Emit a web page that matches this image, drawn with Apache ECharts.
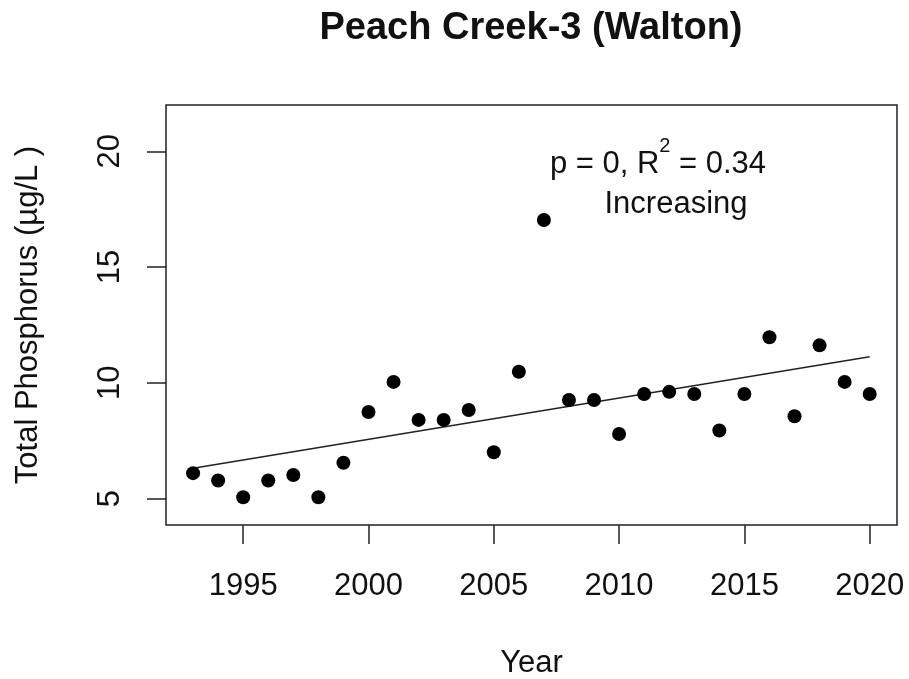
<!DOCTYPE html>
<html>
<head>
<meta charset="utf-8">
<title>Peach Creek-3 (Walton)</title>
<script src="https://cdn.jsdelivr.net/npm/echarts@6/dist/echarts.min.js"></script>
<style>
  html, body { margin: 0; padding: 0; background: #fff; }
  #chart { width: 909px; height: 679px; }
</style>
</head>
<body>
<div id="chart"></div>
<script>
// observed annual values
const years = [1993, 1994, 1995, 1996, 1997, 1998, 1999, 2000, 2001, 2002, 2003, 2004, 2005, 2006,
  2007, 2008, 2009, 2010, 2011, 2012, 2013, 2014, 2015, 2016, 2017, 2018, 2019, 2020];
const phosphorus = [6.10, 5.78, 5.06, 5.78, 6.02, 5.06, 6.55, 8.74, 10.04, 8.40, 8.40, 8.83, 7.00, 10.48,
  17.03, 9.26, 9.26, 7.79, 9.52, 9.61, 9.52, 7.94, 9.52, 11.97, 8.56, 11.62, 10.04, 9.52];

// fitted trend end points
const trendYears = [1993, 2020];
const trendValues = [6.31, 11.13];

const xTicks = [1995, 2000, 2005, 2010, 2015, 2020];
const yTicks = [5, 10, 15, 20];

const chartTitle = 'Peach Creek-3 (Walton)';
const statText = ['p = 0, R', '2', ' = 0.34'];
const trendText = 'Increasing';

const font = '"Liberation Sans", Arial, sans-serif';
const ink = '#111';

const chart = echarts.init(document.getElementById('chart'), null, { renderer: 'canvas' });

const option = {
  backgroundColor: '#fff',
  animation: false,
  textStyle: { fontFamily: font },
  grid: {
    left: 166,
    right: 12,
    top: 105,
    bottom: 154,
    outerBoundsMode: 'none',
    containLabel: false,
    show: true,
    borderColor: '#222',
    borderWidth: 1.5,
    backgroundColor: 'transparent'
  },
  xAxis: {
    type: 'value',
    min: 1991.92,
    max: 2021.09,
    name: 'Year',
    nameLocation: 'middle',
    nameGap: 123,
    nameTextStyle: { color: ink, fontSize: 31, fontFamily: font },
    axisLine: { show: false },
    splitLine: { show: false },
    axisTick: {
      show: true,
      inside: false,
      length: 19,
      customValues: xTicks,
      lineStyle: { color: '#222', width: 1.5 }
    },
    axisLabel: {
      customValues: xTicks,
      formatter: (v) => String(v),
      margin: 46,
      color: ink,
      fontSize: 31,
      fontFamily: font
    }
  },
  yAxis: {
    type: 'value',
    min: 3.86,
    max: 22.0,
    name: 'Total Phosphorus (µg/L )',
    nameLocation: 'middle',
    nameRotate: 90,
    nameGap: 122,
    nameTextStyle: { color: ink, fontSize: 31, fontFamily: font },
    axisLine: { show: false },
    splitLine: { show: false },
    axisTick: {
      show: true,
      inside: false,
      length: 19,
      customValues: yTicks,
      lineStyle: { color: '#222', width: 1.5 }
    },
    axisLabel: {
      customValues: yTicks,
      rotate: 90,
      margin: 40,
      color: ink,
      fontSize: 31,
      fontFamily: font
    }
  },
  series: [
    {
      name: 'Trend',
      type: 'line',
      data: trendYears.map((y, i) => [y, trendValues[i]]),
      showSymbol: false,
      symbol: 'none',
      lineStyle: { color: '#222', width: 1.5 },
      silent: true,
      z: 2
    },
    {
      name: 'Total Phosphorus',
      type: 'scatter',
      data: years.map((y, i) => [y, phosphorus[i]]),
      symbol: 'circle',
      symbolSize: 14,
      itemStyle: { color: '#000', opacity: 1 },
      z: 3
    }
  ],
  graphic: [
    {
      type: 'text',
      x: 531,
      y: 29,
      style: {
        text: chartTitle,
        font: 'bold 38px ' + font,
        fill: ink,
        align: 'center',
        verticalAlign: 'middle'
      }
    },
    {
      type: 'text',
      x: 658,
      y: 158,
      style: {
        text: '{a|' + statText[0] + '}{s|' + statText[1] + '}{a|' + statText[2] + '}',
        align: 'center',
        verticalAlign: 'middle',
        rich: {
          a: { fontSize: 31, fontFamily: font, fill: ink, lineHeight: 44, verticalAlign: 'bottom' },
          s: { fontSize: 20, fontFamily: font, fill: ink, lineHeight: 44, verticalAlign: 'top' }
        }
      }
    },
    {
      type: 'text',
      x: 676,
      y: 204,
      style: {
        text: trendText,
        font: '31px ' + font,
        fill: ink,
        align: 'center',
        verticalAlign: 'middle'
      }
    }
  ]
};

chart.setOption(option);
</script>
</body>
</html>
